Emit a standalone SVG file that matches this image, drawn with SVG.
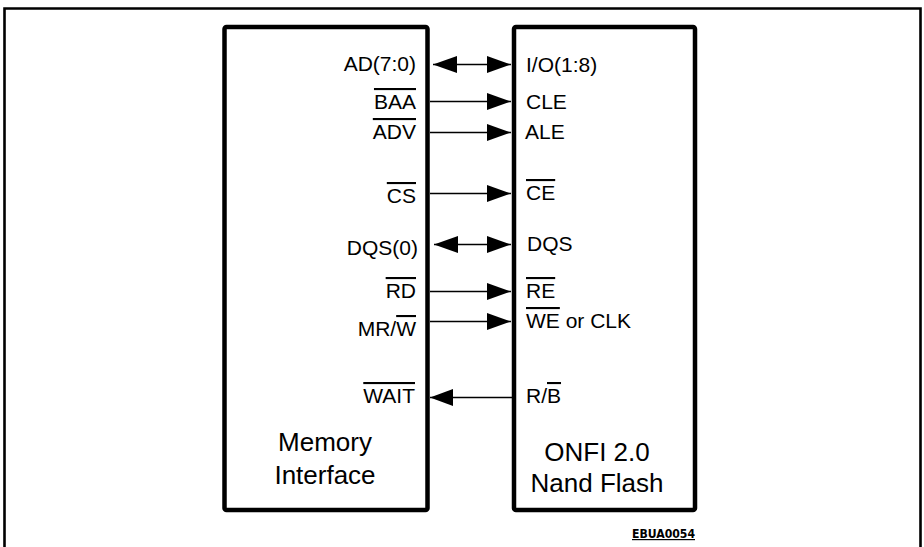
<svg xmlns="http://www.w3.org/2000/svg" width="924" height="547" viewBox="0 0 924 547">
<style>
.box{fill:#fff;stroke:#000;stroke-width:4.5}
.frame{fill:none;stroke:#000;stroke-width:2.6}
.wire{stroke:#000;stroke-width:1.6;fill:none}
.lbl{font-family:"Liberation Sans",Arial,sans-serif;font-size:21px;fill:#000}
.r{text-anchor:end}
.title{font-family:"Liberation Sans",Arial,sans-serif;font-size:26px;fill:#000;text-anchor:middle}
.ol{text-decoration:overline;text-decoration-thickness:2px}
.tag{font-family:"DejaVu Sans Condensed","DejaVu Sans",sans-serif;font-weight:bold;font-size:12px;fill:#000;text-decoration:underline}
</style>
<defs>
<marker id="ah" viewBox="0 0 24 17" refX="24" refY="8.5" markerWidth="24" markerHeight="17" markerUnits="userSpaceOnUse" orient="auto-start-reverse">
<path d="M0,0 L24,8.5 L0,17 Z" fill="#000"/>
</marker>
<marker id="ah2" viewBox="0 0 23 17" refX="23" refY="8.5" markerWidth="23" markerHeight="17" markerUnits="userSpaceOnUse" orient="auto">
<path d="M0,0 L23,8.5 L0,17 Z" fill="#000"/>
</marker>
</defs>
<rect width="924" height="547" fill="#fff"/>
<path class="frame" d="M4.5,547 V8.5 H920.5 V547"/>
<g id="memory-interface">
<rect class="box" x="224.5" y="27" width="203" height="483" rx="2"/>
<text class="title" x="325" y="451">Memory</text>
<text class="title" x="325" y="484">Interface</text>
<text class="lbl r" x="416" y="71">AD(7:0)</text>
<text class="lbl r" x="416" y="109"><tspan class="ol">BAA</tspan></text>
<text class="lbl r" x="416" y="139"><tspan class="ol">ADV</tspan></text>
<text class="lbl r" x="416" y="203"><tspan class="ol">CS</tspan></text>
<text class="lbl r" x="418" y="255">DQS(0)</text>
<text class="lbl r" x="416" y="298"><tspan class="ol">RD</tspan></text>
<text class="lbl r" x="416" y="336">MR/<tspan class="ol">W</tspan></text>
<text class="lbl r" x="415" y="403"><tspan class="ol">WAIT</tspan></text>
</g>
<g id="nand-flash">
<rect class="box" x="514" y="27" width="181" height="483" rx="2"/>
<text class="title" x="597" y="461">ONFI 2.0</text>
<text class="title" x="597" y="492">Nand Flash</text>
<text class="lbl" x="526" y="72">I/O(1:8)</text>
<text class="lbl" x="526" y="109">CLE</text>
<text class="lbl" x="525" y="139">ALE</text>
<text class="lbl" x="526" y="200"><tspan class="ol">CE</tspan></text>
<text class="lbl" x="527" y="251">DQS</text>
<text class="lbl" x="526" y="298"><tspan class="ol">RE</tspan></text>
<text class="lbl" x="526" y="328"><tspan class="ol">WE</tspan> or CLK</text>
<text class="lbl" x="526" y="403">R/<tspan class="ol">B</tspan></text>
</g>
<g id="connectors">
<line class="wire" x1="433" y1="64.5" x2="511" y2="64.5" marker-start="url(#ah)" marker-end="url(#ah)"/>
<line class="wire" x1="430" y1="101.5" x2="511" y2="101.5" marker-end="url(#ah)"/>
<line class="wire" x1="430" y1="132.5" x2="511" y2="132.5" marker-end="url(#ah)"/>
<line class="wire" x1="430" y1="193.5" x2="511" y2="193.5" marker-end="url(#ah)"/>
<line class="wire" x1="434" y1="244.5" x2="511" y2="244.5" marker-start="url(#ah)" marker-end="url(#ah)"/>
<line class="wire" x1="430" y1="291.5" x2="511" y2="291.5" marker-end="url(#ah)"/>
<line class="wire" x1="430" y1="321.5" x2="511" y2="321.5" marker-end="url(#ah)"/>
<line class="wire" x1="512" y1="397.5" x2="430" y2="397.5" marker-end="url(#ah2)"/>
</g>
<text class="tag" x="632" y="538" textLength="63" lengthAdjust="spacingAndGlyphs">EBUA0054</text>
</svg>
